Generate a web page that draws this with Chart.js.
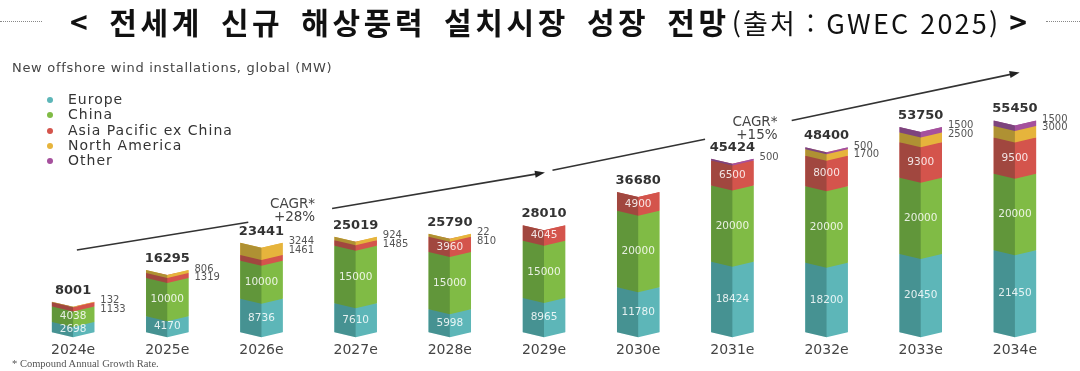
<!DOCTYPE html>
<html lang="ko">
<head>
<meta charset="utf-8">
<script src="https://cdn.jsdelivr.net/npm/chart.js@4.4.0/dist/chart.umd.min.js"></script>
<style>
  html, body { margin: 0; padding: 0; background: #fff; }
  #wrap { position: relative; width: 1080px; height: 371px; overflow: hidden; }
  #chart { position: absolute; left: 0; top: 0; }
  .dots { position: absolute; top: 21px; height: 0; border-top: 1.5px dotted #888; }
  #title { position: absolute; left: 70px; top: -1px; white-space: nowrap; font-family: "Noto Sans CJK KR"; color: #111; }
  #title .main { font-size: 30px; font-weight: 700; letter-spacing: 3.6px; word-spacing: 6px; }
  #title .src { font-size: 27px; font-weight: 400; letter-spacing: 2.2px; margin-left: 2px; }
  #subtitle { position: absolute; left: 12px; top: 60px; font-family: "DejaVu Sans"; font-size: 13px; letter-spacing: 0.7px; color: #444; }
  #legend { position: absolute; left: 45px; top: 92px; font-family: "DejaVu Sans"; font-size: 14px; letter-spacing: 1px; color: #333; }
  #legend div { height: 15.3px; line-height: 15.3px; position: relative; padding-left: 23px; }
  #legend span { position: absolute; left: 2px; top: 5px; width: 6px; height: 6px; border-radius: 50%; }
  #note { position: absolute; left: 12px; top: 358px; font-family: "Liberation Serif"; font-size: 10.5px; color: #555; }
</style>
</head>
<body>
<div id="wrap">
  <canvas id="chart" width="1080" height="371"></canvas>
  <div class="dots" style="left:0;width:42px"></div>
  <div class="dots" style="left:1046px;width:34px"></div>
  <div id="title"><span class="main">&lt; 전세계 신규 해상풍력 설치시장 성장 전망</span><span class="src">(출처 : GWEC 2025)</span><span class="main" style="letter-spacing:0;margin-left:9px">&gt;</span></div>
  <div id="subtitle">New offshore wind installations, global (MW)</div>
  <div id="legend"></div>
  <div id="note">* Compound Annual Growth Rate.</div>
</div>
<script>
// === DATA ===
const years = ['2024e', '2025e', '2026e', '2027e', '2028e', '2029e', '2030e', '2031e', '2032e', '2033e', '2034e'];
const europe = [2698, 4170, 8736, 7610, 5998, 8965, 11780, 18424, 18200, 20450, 21450];
const china = [4038, 10000, 10000, 15000, 15000, 15000, 20000, 20000, 20000, 20000, 20000];
const asiaPacific = [1133, 1319, 1461, 1485, 3960, 4045, 4900, 6500, 8000, 9300, 9500];
const northAmerica = [132, 806, 3244, 924, 810, 0, 0, 0, 1700, 2500, 3000];
const other = [0, 0, 0, 0, 22, 0, 0, 500, 500, 1500, 1500];

// trend arrows: [x index, value] -> [x index, value], arrowhead?
const trendLines = [
  { from: [0.04, 21500], to: [1.86, 28800], head: false },
  { from: [2.75, 32400], to: [5.01, 41800], head: true },
  { from: [5.09, 42400], to: [6.71, 50500], head: false },
  { from: [7.63, 55400], to: [10.05, 68000], head: true }
];
const cagrNotes = [
  { at: [2.33, 30000], lines: ['CAGR*', '+28%'] },
  { at: [7.24, 51500], lines: ['CAGR*', '+15%'] }
];

const colors = {
  europe: '#5db6b8',
  china: '#80bb45',
  asiaPacific: '#d4544c',
  northAmerica: '#e6b43c',
  other: '#a5509d'
};

const datasets = [
  { label: 'Europe', data: europe, backgroundColor: colors.europe },
  { label: 'China', data: china, backgroundColor: colors.china },
  { label: 'Asia Pacific ex China', data: asiaPacific, backgroundColor: colors.asiaPacific },
  { label: 'North America', data: northAmerica, backgroundColor: colors.northAmerica },
  { label: 'Other', data: other, backgroundColor: colors.other }
];

// legend (html)
const legendEl = document.getElementById('legend');
datasets.forEach(ds => {
  const row = document.createElement('div');
  row.innerHTML = `<span style="background:${ds.backgroundColor}"></span>${ds.label}`;
  legendEl.appendChild(row);
});

// === 3D FOLD + LABELS ===
const foldPlugin = {
  id: 'fold',
  afterDatasetsDraw(chart) {
    const ctx = chart.ctx;
    const d = 5;
    ctx.save();
    years.forEach((_, i) => {
      const segs = [];
      chart.data.datasets.forEach((ds, k) => {
        if (!ds.data[i]) return;
        const p = chart.getDatasetMeta(k).data[i].getProps(['x', 'y', 'base', 'width'], true);
        segs.push({ k, value: ds.data[i], color: ds.backgroundColor, top: p.y, base: p.base, x: p.x, w: p.width });
      });
      if (!segs.length) return;
      const x = segs[0].x, w = segs[0].w;
      const left = x - w / 2, right = x + w / 2;
      const top = segs[segs.length - 1].top;
      const base = segs[0].base;

      // notch on top
      ctx.fillStyle = '#ffffff';
      ctx.beginPath();
      ctx.moveTo(left - 1, top - 1);
      ctx.lineTo(right + 1, top - 1);
      ctx.lineTo(right + 1, top);
      ctx.lineTo(x, top + d);
      ctx.lineTo(left - 1, top);
      ctx.closePath();
      ctx.fill();

      // chevron bands
      segs.forEach(s => {
        ctx.fillStyle = s.color;
        ctx.beginPath();
        ctx.moveTo(left, s.top);
        ctx.lineTo(x, s.top + d);
        ctx.lineTo(right, s.top);
        ctx.lineTo(right, s.base);
        ctx.lineTo(x, s.base + d);
        ctx.lineTo(left, s.base);
        ctx.closePath();
        ctx.fill();
      });

      // darker left face
      ctx.fillStyle = 'rgba(0, 35, 25, 0.24)';
      ctx.beginPath();
      ctx.moveTo(left, top);
      ctx.lineTo(x, top + d);
      ctx.lineTo(x, base + d);
      ctx.lineTo(left, base);
      ctx.closePath();
      ctx.fill();

      // values inside
      ctx.textAlign = 'center';
      ctx.textBaseline = 'middle';
      ctx.font = '10.5px "DejaVu Sans"';
      ctx.fillStyle = 'rgba(255, 255, 255, 0.85)';
      const outside = [];
      segs.forEach(s => {
        if (s.k <= 2 && s.value >= 2000) {
          ctx.fillText(String(s.value), x, (s.top + s.base) / 2 + d / 2);
        } else {
          outside.push(s.value);
        }
      });

      // small values at the side, top segment first
      ctx.textAlign = 'left';
      ctx.font = '10px "DejaVu Sans"';
      ctx.fillStyle = '#555';
      outside.reverse().forEach((v, j) => {
        ctx.fillText(String(v), right + 6, top - 1 + j * 8.5);
      });

      // total
      const total = segs.reduce((a, s) => a + s.value, 0);
      ctx.textAlign = 'center';
      ctx.textBaseline = 'bottom';
      ctx.font = 'bold 13px "DejaVu Sans"';
      ctx.fillStyle = '#333';
      ctx.fillText(String(total), x, top - 5);
    });
    ctx.restore();
  }
};

const trendPlugin = {
  id: 'trend',
  afterDatasetsDraw(chart) {
    const ctx = chart.ctx;
    const xs = chart.scales.x, ys = chart.scales.y;
    ctx.save();
    ctx.strokeStyle = '#333';
    ctx.fillStyle = '#222';
    ctx.lineWidth = 1.6;
    trendLines.forEach(t => {
      const x1 = xs.getPixelForValue(t.from[0]), y1 = ys.getPixelForValue(t.from[1]);
      const x2 = xs.getPixelForValue(t.to[0]), y2 = ys.getPixelForValue(t.to[1]);
      const a = Math.atan2(y2 - y1, x2 - x1);
      const hl = t.head ? 10 : 0;
      ctx.beginPath();
      ctx.moveTo(x1, y1);
      ctx.lineTo(x2 - Math.cos(a) * hl * 0.8, y2 - Math.sin(a) * hl * 0.8);
      ctx.stroke();
      if (t.head) {
        ctx.beginPath();
        ctx.moveTo(x2, y2);
        ctx.lineTo(x2 - hl * Math.cos(a) + 3.5 * Math.sin(a), y2 - hl * Math.sin(a) - 3.5 * Math.cos(a));
        ctx.lineTo(x2 - hl * Math.cos(a) - 3.5 * Math.sin(a), y2 - hl * Math.sin(a) + 3.5 * Math.cos(a));
        ctx.closePath();
        ctx.fill();
      }
    });
    ctx.font = '13.5px "DejaVu Sans"';
    ctx.fillStyle = '#444';
    ctx.textAlign = 'center';
    ctx.textBaseline = 'middle';
    cagrNotes.forEach(n => {
      const x = xs.getPixelForValue(n.at[0]), y = ys.getPixelForValue(n.at[1]);
      ctx.fillText(n.lines[0], x, y - 13);
      ctx.fillText(n.lines[1], x + 2, y);
    });
    ctx.restore();
  }
};

new Chart(document.getElementById('chart'), {
  type: 'bar',
  data: { labels: years, datasets: datasets },
  options: {
    responsive: false,
    animation: false,
    layout: { padding: { left: 26, right: 18, top: 103, bottom: 2 } },
    datasets: { bar: { categoryPercentage: 1, barPercentage: 0.45, borderWidth: 0 } },
    plugins: { legend: { display: false }, tooltip: { enabled: false } },
    scales: {
      x: {
        stacked: true,
        grid: { display: false, drawTicks: false },
        border: { display: false },
        ticks: { color: '#444', font: { family: 'DejaVu Sans', size: 14 }, padding: 10, maxRotation: 0, autoSkip: false }
      },
      y: { stacked: true, display: false, min: 0, max: 60000 }
    }
  },
  plugins: [foldPlugin, trendPlugin]
});
</script>
</body>
</html>
